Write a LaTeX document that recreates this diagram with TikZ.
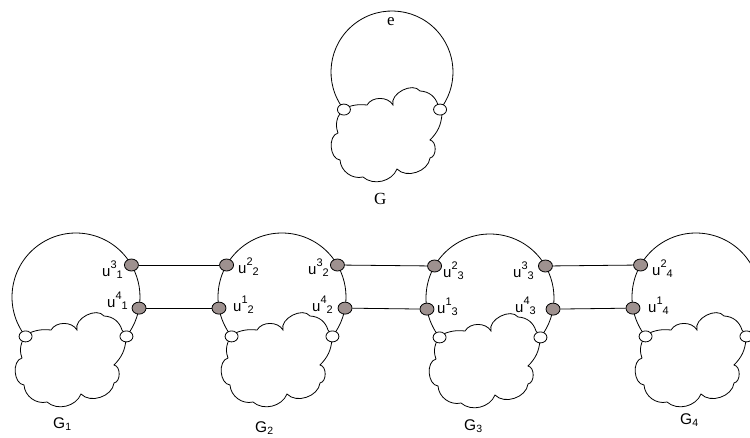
\documentclass[tikz,border=0pt]{standalone}
\usepackage{fontspec}
\setmainfont{Liberation Sans}
\newfontfamily\serifG{Liberation Serif}
\usetikzlibrary{shapes.geometric}
\definecolor{dotfill}{RGB}{158,145,143}
\tikzset{
  ln/.style={line width=0.8pt},
  oc/.style={ellipse, draw, fill=white, line width=0.8pt, minimum width=13pt, minimum height=11pt, inner sep=0pt},
  fc/.style={ellipse, draw, fill=dotfill, line width=0.8pt, minimum width=14pt, minimum height=12pt, inner sep=0pt},
  ulabel/.style={inner sep=0pt, font=\fontsize{15}{15}\selectfont},
  glabel/.style={inner sep=0pt, font=\fontsize{15.5}{15.5}\selectfont},
  slabel/.style={inner sep=0pt, font=\fontsize{17}{17}\selectfont\serifG},
  conn/.style={line width=0.8pt}
}
\newcommand\ulab[2]{u\raisebox{8pt}{\fontsize{11}{11}\selectfont #1}\raisebox{-2pt}{\fontsize{11}{11}\selectfont #2}}
\newcommand\glab[1]{G\raisebox{-2.5pt}{\fontsize{10.5}{10.5}\selectfont #1}}
\newcommand\comp[3]{%
  \begin{scope}[shift={(#1,#2)}]
    \draw[ln] (142:#3) arc[start angle=142,end angle=398,radius=#3];
    \draw[ln] (-49,37) to[bend left=15] (-25,33) to[bend left=60] (1,33)
      to[bend left=80] (28,19) to[bend left=35] (46,33) -- (49,37) -- (50,42)
      to[bend left=20] (38,68) to[bend left=80] (38,86) to[bend left=65] (5,97)
      to[bend left=55] (-29,105) to[bend left=50] (-52,88)
      to[bend left=80] (-54,61) to[bend left=20] (-54,45) -- cycle;
    \node[oc] at (142:#3) {};
    \node[oc] at (38:#3) {};
  \end{scope}}
\begin{document}
\begin{tikzpicture}[x=1pt,y=-1pt]
\useasboundingbox (0,0) rectangle (750,437);
\clip (0,0) rectangle (750,437);
% top graph G
\comp{392}{72}{61}
\node[slabel, anchor=base] (e) at (391,25) {e};
\node[slabel, anchor=base west] (G) at (374,204) {G};
% components
\comp{76}{297}{64}
\comp{282}{297}{64}
\comp{490}{298}{64}
\comp{696}{297}{64}
\coordinate (c1) at (76,297);
\coordinate (c2) at (282,297);
\coordinate (c3) at (490,298);
\coordinate (c4) at (696,297);
\node[fc] (u31) at ([shift={(330:64)}]c1) {};
\node[fc] (u41) at ([shift={(10:64)}]c1) {};
\node[fc] (u22) at ([shift={(210:64)}]c2) {};
\node[fc] (u12) at ([shift={(170:64)}]c2) {};
\node[fc] (u32) at ([shift={(330:64)}]c2) {};
\node[fc] (u42) at ([shift={(10:64)}]c2) {};
\node[fc] (u23) at ([shift={(210:64)}]c3) {};
\node[fc] (u13) at ([shift={(170:64)}]c3) {};
\node[fc] (u33) at ([shift={(330:64)}]c3) {};
\node[fc] (u43) at ([shift={(10:64)}]c3) {};
\node[fc] (u24) at ([shift={(210:64)}]c4) {};
\node[fc] (u14) at ([shift={(170:64)}]c4) {};
% connectors
\draw[conn] (u31) -- (u22);
\draw[conn] (u41) -- (u12);
\draw[conn] (u32) -- (u23);
\draw[conn] (u42) -- (u13);
\draw[conn] (u33) -- (u24);
\draw[conn] (u43) -- (u14);
% vertex labels
\node[ulabel, anchor=base east] (l31) at (123,276) {\ulab{3}{1}};
\node[ulabel, anchor=base east] (l41) at (128,307) {\ulab{4}{1}};
\node[ulabel, anchor=base west] (l22) at (238,273) {\ulab{2}{2}};
\node[ulabel, anchor=base west] (l12) at (233,311) {\ulab{1}{2}};
\node[ulabel, anchor=base east] (l32) at (329,274) {\ulab{3}{2}};
\node[ulabel, anchor=base east] (l42) at (333,311) {\ulab{4}{2}};
\node[ulabel, anchor=base west] (l23) at (443,277) {\ulab{2}{3}};
\node[ulabel, anchor=base west] (l13) at (437,313) {\ulab{1}{3}};
\node[ulabel, anchor=base east] (l33) at (534,277) {\ulab{3}{3}};
\node[ulabel, anchor=base east] (l43) at (536,312) {\ulab{4}{3}};
\node[ulabel, anchor=base west] (l24) at (652,275) {\ulab{2}{4}};
\node[ulabel, anchor=base west] (l14) at (648,312) {\ulab{1}{4}};
% component labels
\node[glabel, anchor=base west] (G1) at (53,428) {\glab{1}};
\node[glabel, anchor=base west] (G2) at (255,432) {\glab{2}};
\node[glabel, anchor=base west] (G3) at (464,430) {\glab{3}};
\node[glabel, anchor=base west] (G4) at (680,424) {\glab{4}};
\end{tikzpicture}
\end{document}
